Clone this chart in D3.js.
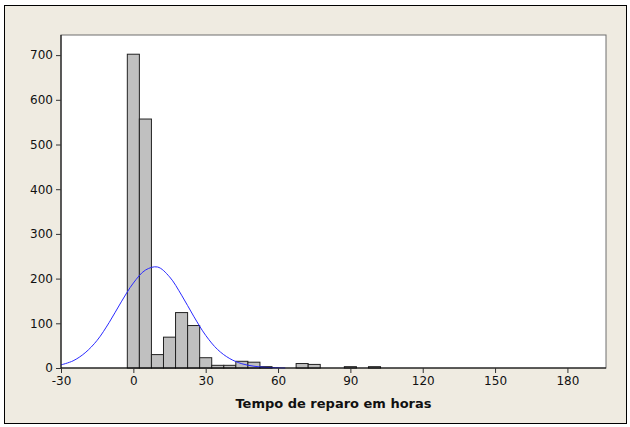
<!DOCTYPE html>
<html>
<head>
<meta charset="utf-8">
<script src="https://cdn.jsdelivr.net/npm/d3@7"></script>
<style>
  body { margin: 0; background: #fff; }
  text { font-family: Tahoma, "DejaVu Sans", sans-serif; }
</style>
</head>
<body>
<div id="chart"></div>
<script>
// histogram bin centers (hours) and counts
const binCenters = [0, 5, 10, 15, 20, 25, 30, 35, 40, 45, 50, 55, 70, 75, 90, 100];
const binCounts  = [702, 557, 30, 69, 124, 95, 23, 6, 6, 15, 13, 3, 10, 8, 3, 3];
const binWidth = 5;

// fitted normal curve
const curveX = [-30, -25, -20, -15, -10, -5, 0, 5, 10, 15, 20, 25, 30, 35, 40, 45, 50, 55, 60, 63];
const curveY = [7, 16, 34, 62, 102, 148, 190, 219, 226, 204, 163, 116, 73, 41, 21, 9.5, 4, 1.4, 0.4, 0.1];

const xTicks = [-30, 0, 30, 60, 90, 120, 150, 180];
const yTicks = [0, 100, 200, 300, 400, 500, 600, 700];
const xTitle = "Tempo de reparo em horas";

const W = 630, H = 427;
const plot = { left: 61, right: 606, top: 35, bottom: 368 };

const svg = d3.select("#chart").append("svg")
    .attr("width", W)
    .attr("height", H);

// outer frame
svg.append("rect")
    .attr("x", 4.5).attr("y", 5.5)
    .attr("width", 622).attr("height", 418)
    .attr("fill", "#efebe1")
    .attr("stroke", "#000");

// plot area
svg.append("rect")
    .attr("x", plot.left).attr("y", plot.top)
    .attr("width", plot.right - plot.left).attr("height", plot.bottom - plot.top)
    .attr("fill", "#fff")
    .attr("stroke", "#6e6e6e");

const x = d3.scaleLinear().domain([-30, 196]).range([plot.left, plot.right]);
const y = d3.scaleLinear().domain([0, 745]).range([plot.bottom, plot.top]);

// bars
const bins = binCenters.map((c, i) => ({ c: c, n: binCounts[i] }));
svg.append("g").selectAll("rect")
    .data(bins)
    .enter()
    .append("rect")
    .attr("x", d => x(d.c - binWidth / 2))
    .attr("y", d => y(d.n))
    .attr("width", d => x(d.c + binWidth / 2) - x(d.c - binWidth / 2))
    .attr("height", d => y(0) - y(d.n))
    .attr("fill", "#c0c0c0")
    .attr("stroke", "#222")
    .attr("stroke-width", 1);

// normal fit
const pts = curveX.map((v, i) => [v, curveY[i]]);
const line = d3.line()
    .x(d => x(d[0]))
    .y(d => y(d[1]))
    .curve(d3.curveCatmullRom);
svg.append("path")
    .datum(pts)
    .attr("fill", "none")
    .attr("stroke", "#2a2aff")
    .attr("stroke-width", 1)
    .attr("d", line);

// axes (plain hyphen for negatives, like the original)
const fmt = d => String(d);
const xAxis = svg.append("g")
    .attr("transform", `translate(0,${plot.bottom})`)
    .call(d3.axisBottom(x).tickValues(xTicks).tickFormat(fmt).tickSize(5).tickPadding(3));
const yAxis = svg.append("g")
    .attr("transform", `translate(${plot.left},0)`)
    .call(d3.axisLeft(y).tickValues(yTicks).tickFormat(fmt).tickSize(5).tickPadding(3));

[xAxis, yAxis].forEach(g => {
    g.select(".domain").attr("stroke", "#000");
    g.selectAll(".tick line").attr("stroke", "#333");
    g.selectAll("text")
        .attr("fill", "#111")
        .style("font-size", "12px")
        .style("font-family", "Tahoma, 'DejaVu Sans', sans-serif");
});
// domain lines span the full plot edges
xAxis.select(".domain").attr("d", `M${plot.left},0H${plot.right}`);
yAxis.select(".domain").attr("d", `M0,${plot.bottom}V${plot.top}`);

svg.append("text")
    .attr("x", (plot.left + plot.right) / 2)
    .attr("y", 408)
    .attr("text-anchor", "middle")
    .attr("font-weight", "bold")
    .attr("font-size", "13px")
    .attr("fill", "#111")
    .text(xTitle);
</script>
</body>
</html>
